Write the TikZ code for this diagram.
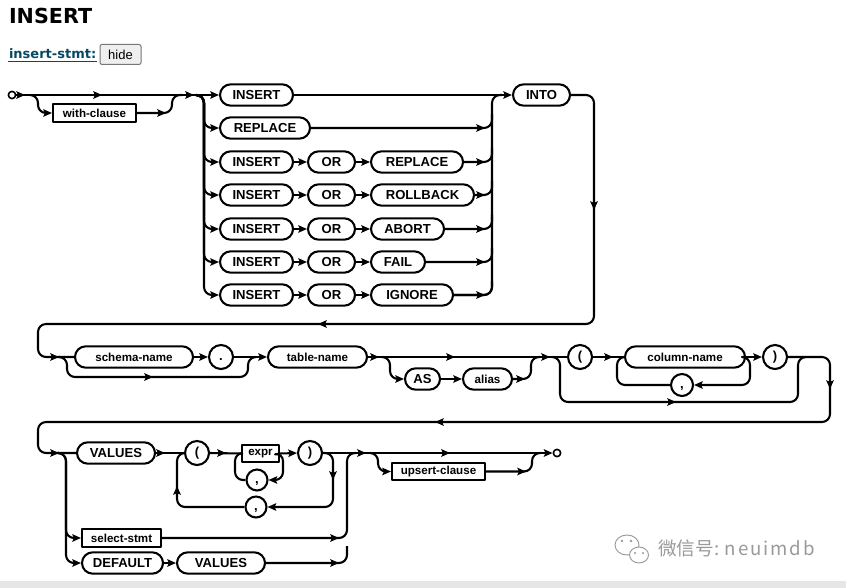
\documentclass[tikz,border=0pt]{standalone}
\usepackage{fontspec}
\setmainfont{Liberation Sans}
\newfontfamily\dejab{DejaVu Sans}
\newfontfamily\cjk{Noto Sans CJK SC}
\usetikzlibrary{arrows.meta}
\definecolor{linkc}{HTML}{044A64}
\definecolor{btnfill}{HTML}{EFEFEF}
\definecolor{btnline}{HTML}{767676}
\definecolor{wmgray}{HTML}{9A9A9A}
\definecolor{bandc}{HTML}{E6E6E6}
\newcommand\tfont{\bfseries\fontsize{9.8pt}{11pt}\selectfont}
\newcommand\nfont{\bfseries\fontsize{8.7pt}{10pt}\selectfont}
\newcommand\pun[1]{\vphantom{(}#1}
\newcommand\arR[2]{\draw[tip] ({#1-6},{#2}) -- ({#1},{#2});}
\newcommand\arL[2]{\draw[tip] ({#1+6},{#2}) -- ({#1},{#2});}
\newcommand\arD[2]{\draw[tip] ({#1},{#2-6}) -- ({#1},{#2});}
\newcommand\arU[2]{\draw[tip] ({#1},{#2+6}) -- ({#1},{#2});}
\tikzset{
  tip/.style={-{Stealth[length=6.5pt,width=5.6pt,inset=1.2pt]}},
  rc/.style={rounded corners=6pt},
  pill/.style={draw, rounded corners=8pt, minimum height=16pt, minimum width=#1*0.75pt, inner sep=0pt, font=\tfont},
  npill/.style={pill=#1, font=\nfont},
  nbox/.style={draw, rectangle, minimum height=13pt, minimum width=#1*0.75pt, inner sep=0pt, font=\nfont},
  circ/.style={draw, circle, minimum size=#1*0.75pt, inner sep=0pt, font=\tfont},
  term/.style={draw, circle, minimum size=5.5pt, inner sep=0pt, line width=1.2pt, fill=white},
}
\begin{document}
\begin{tikzpicture}[x=0.75pt,y=-0.75pt,line width=1.55pt,line join=round]
\fill[white] (0,0) rectangle (846,588);
\useasboundingbox (0,0) rectangle (846,588);
\fill[bandc] (0,581) rectangle (846,588);

% header
\node[anchor=base west, inner sep=0pt, font=\dejab\bfseries\fontsize{15.5pt}{18pt}\selectfont] (title) at (8,24) {INSERT};
\node[anchor=base west, inner sep=0pt, text=linkc, font=\dejab\bfseries\fontsize{9.75pt}{12pt}\selectfont] (lnk) at (8,58.5) {insert-stmt:};
\draw[linkc, line width=0.9pt] ([yshift=-2.2pt]lnk.base west) -- ([yshift=-2.2pt]lnk.base east);
\node[draw=btnline, fill=btnfill, line width=0.75pt, rounded corners=1.5pt, minimum width=41*0.75pt, minimum height=20*0.75pt, inner sep=0pt, font=\fontsize{9.75pt}{11pt}\selectfont] (hide) at (120.5,54.5) {hide};

% ---------- row 1 ----------
\node[term] (st) at (12,95) {};
\node[nbox=83] (wc) at (94.5,113) {with-clause};
\node[pill=73] (i1) at (256.5,95) {INSERT};
\node[pill=90] (rp) at (265,128) {REPLACE};
\node[pill=57] (into) at (541.5,95) {INTO};

\draw[tip] (st.east) -- (i1.west);
\arR{25}{95} \arR{102}{95} \arR{194}{95}
\draw[rc,tip] (30,95) -- (38,95) |- (wc.west);
\draw[rc] (wc.east) -- (172,113) -- (172,95) -- (182,95);
\arR{166}{113}

\draw[tip] (i1.east) -- (into.west);
\draw[rc,tip] (196,95) -- (204,95) |- (rp.west);
\draw[rc] (rp.east) -- (492,128) -- (492,114);
\arR{485}{128}

\foreach \n/\y/\w/\t in {3/162/92/REPLACE,4/195/103/ROLLBACK,5/229/73/ABORT,6/262/54/FAIL,7/295/82/IGNORE}{
  \node[pill=73] (i\n) at (256.5,\y) {INSERT};
  \node[pill=47] (o\n) at (331.5,\y) {OR};
  \node[pill=\w, anchor=west] (k\n) at (370,\y) {\t};
  \draw[tip] (i\n.east) -- (o\n.west);
  \draw[tip] (o\n.east) -- (k\n.west);
  \draw[rc,tip] (196,95) -- (204,95) |- (i\n.west);
  \draw[rc] (k\n.east) -- (492,\y) -- (492,{\y-14});
  \arR{485}{\y}
}
\draw[rc] (k7.east) -- (492,295) -- (492,95) -- (502,95);

% INTO exit to row 2
\node[npill=118] (sch) at (134,357) {schema-name};
\draw[rc] (into.east) -- (594,95) -- (594,324) -- (38,324) -- (38,357) -- (sch.west);
\arD{594}{210} \arL{318}{324} \arR{59}{357}

% ---------- row 2 ----------
\node[circ=24] (pd) at (221,357) {\pun{.}};
\node[npill=99] (tbl) at (317.5,357) {table-name};
\node[pill=35] (as) at (422.5,379) {AS};
\node[npill=49] (al) at (487.5,379) {alias};
\node[circ=24] (lp) at (580,357) {(};
\node[npill=120] (col) at (685,357) {column-name};
\node[circ=22] (cm1) at (682,385) {\pun{,}};
\node[circ=24] (rp2) at (775,357) {)};
\node[pill=78] (val) at (116,453) {VALUES};

\draw[rc] (60,357) -- (67,357) -- (67,377) -- (248,377) -- (248,357) -- (256,357);
\arR{153}{377}
\draw[tip] (sch.east) -- (pd.west);
\draw[tip] (pd.east) -- (tbl.west);
\draw (tbl.east) -- (lp.west);
\arR{379}{357} \arR{455}{357} \arR{550}{357}
\draw[rc,tip] (382,357) -- (390,357) |- (as.west);
\draw[tip] (as.east) -- (al.west);
\draw[rc] (al.east) -- (531,379) -- (531,357) -- (540,357);
\arR{525}{379}
\draw[rc] (552,357) -- (560,357) -- (560,402) -- (798,402) -- (798,357) -- (806,357);
\arR{676}{402}
\draw (lp.east) -- (col.west);
\arR{613}{357}
\draw[rc,tip] (744,357) -- (750,357) |- (cm1.east);
\draw[rc] (cm1.west) -- (617,385) -- (617,357) -- (625,357);
\draw[tip] (col.east) -- (rp2.west);
\draw[rc] (rp2.east) -- (830,357) -- (830,422) -- (38,422) -- (38,453) -- (val.west);
\arD{830}{389} \arL{435}{422} \arR{59}{453}

% ---------- row 3 ----------
\node[circ=24] (lp3) at (197,453) {(};
\node[nbox=37] (expr) at (260.5,453.5) {expr};
\node[circ=21] (cm2) at (257,480) {\pun{,}};
\node[circ=24] (rp3) at (310,453) {)};
\node[circ=21] (cm3) at (256,507) {\pun{,}};
\node[nbox=79] (sel) at (121.5,538) {select-stmt};
\node[pill=81] (def) at (122.5,563) {DEFAULT};
\node[pill=88] (val2) at (221,563) {VALUES};
\node[nbox=93] (ups) at (438.5,471.5) {upsert-clause};
\node[term] (en) at (557,453) {};

\draw (val.east) -- (lp3.west);
\arR{165}{453}
\draw[rc,tip] (rp3.east) -- (333,453) |- (cm3.east);
\arD{333}{480}
\draw[rc] (cm3.west) -- (177,507) -- (177,453) -- (186,453);
\arU{177}{486}
\draw (lp3.east) -- (expr.west);
\arR{226}{453}
\draw[rc,tip] (expr.east) -- (283,453) |- (cm2.east);
\draw[rc] (cm2.west) -- (235,480) -- (235,453) -- (243,453);
\draw[tip] (expr.east) -- (rp3.west);
\draw (rp3.east) -- (540,453);
\draw[tip] (536,453) -- (en.west);
\arR{366}{453} \arR{450}{453}
\draw[rc,tip] (370,453) -- (378,453) |- (ups.west);
\draw[rc] (ups.east) -- (532,471.5) -- (532,453) -- (541,453);
\arR{526}{471.5}
\draw[rc,tip] (59,453) -- (66,453) |- (sel.west);
\draw[rc,tip] (59,453) -- (66,453) |- (def.west);
\draw[tip] (def.east) -- (val2.west);
\draw[rc] (sel.east) -- (347,538) -- (347,453) -- (356,453);
\arR{339}{538}
\draw[rc] (val2.east) -- (347,563) -- (347,546);
\arR{339}{563}

% ---------- watermark ----------
\begin{scope}[wmgray, line width=0.7pt]
\draw[fill=white] (627,545) ellipse [x radius=12, y radius=10];
\fill (622,541) circle (1.3); \fill (631,541) circle (1.3);
\draw[fill=white] (639,555) ellipse [x radius=9.5, y radius=8];
\fill (635,553) circle (1.1); \fill (643,553) circle (1.1);
\end{scope}
\node[anchor=base west, inner sep=0pt, text=wmgray, font=\cjk\fontsize{14pt}{16pt}\selectfont] (wm) at (657,555) {微信号: {\addfontfeature{LetterSpace=10}neuimdb}};
\end{tikzpicture}
\end{document}
